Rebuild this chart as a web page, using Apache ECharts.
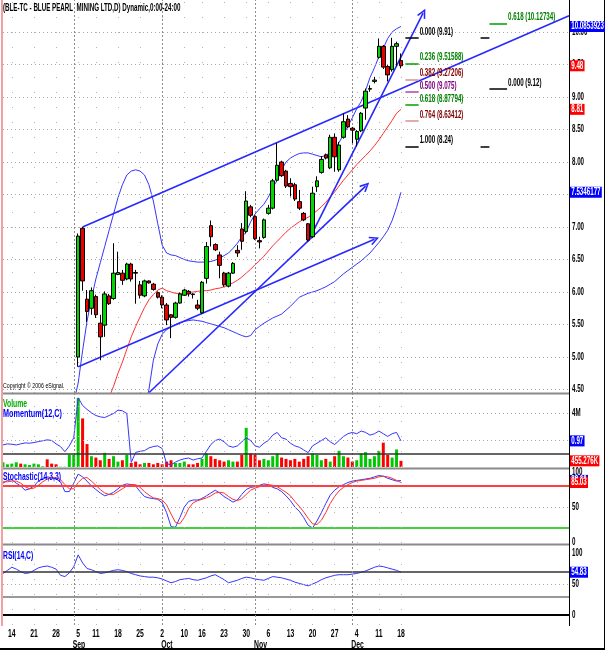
<!DOCTYPE html>
<html>
<head>
<meta charset="utf-8">
<title>BLE-TC</title>
<script src="https://cdn.jsdelivr.net/npm/echarts@6.0.0/dist/echarts.min.js"></script>
<style>
html,body{margin:0;padding:0;background:#fff;}
#chart{width:605px;height:650px;}
</style>
</head>
<body>
<div id="chart"></div>
<script>
// ---------------- categories (trading days) ----------------
const firstDay = '2006-08-10';
const dayCount = 129;
const marketHolidays = ['2006-09-04', '2006-10-09'];
const lastLabelDay = '2006-12-18';
const monthNames = ['Jan','Feb','Mar','Apr','May','Jun','Jul','Aug','Sep','Oct','Nov','Dec'];

// ---------------- daily candles, Sep 5 .. Dec 18 2006 ----------------
const candleStart = '2006-09-05';
const candleOpen  = [5.00,6.98,5.89,5.75,5.93,5.52,5.49,5.94,5.90,6.27,6.29,6.20,6.43,6.30,6.11,5.94,6.17,6.12,5.99,5.92,5.80,5.65,5.61,5.83,5.95,6.01,5.97,5.80,5.68,6.21,7.02,6.73,6.57,6.29,6.09,6.29,6.64,6.97,6.93,7.31,7.16,6.79,6.84,7.21,7.29,7.72,8.00,7.86,7.67,7.65,7.39,7.21,7.05,6.85,7.62,7.84,8.11,7.91,8.38,7.88,8.38,8.66,8.52,8.35,8.48,8.83,9.12,9.24,9.61,9.78,9.47,9.42,9.78,9.56];
const candleHigh  = [6.90,7.00,6.03,6.07,5.96,5.65,6.01,5.97,6.75,6.62,6.34,6.45,6.45,6.34,6.17,6.19,6.18,6.14,6.01,5.95,5.83,5.66,5.85,5.99,6.05,6.03,5.98,5.88,6.17,6.77,7.10,6.75,6.62,6.31,6.31,6.46,6.72,7.06,7.55,7.34,7.18,6.85,7.13,7.34,7.74,8.29,8.02,7.88,7.75,7.68,7.57,7.23,7.06,7.62,7.78,8.09,8.13,8.42,8.44,8.31,8.75,8.72,8.54,8.49,8.77,9.13,9.18,9.31,9.90,9.80,9.49,9.91,9.85,9.67];
const candleLow   = [4.85,6.02,5.54,5.65,5.60,4.95,5.31,5.80,5.88,6.26,6.11,6.18,6.16,5.82,5.90,5.92,6.13,6.02,5.90,5.75,5.49,5.29,5.59,5.82,5.94,5.93,5.90,5.72,5.66,6.13,6.70,6.63,6.21,6.08,6.07,6.28,6.54,6.65,6.90,7.15,6.80,6.67,6.82,7.19,7.27,7.70,7.77,7.60,7.47,7.40,7.26,7.09,6.78,6.83,7.54,7.82,8.04,7.89,7.85,7.85,8.36,8.52,8.29,8.24,8.46,8.65,9.08,9.21,9.59,9.43,9.24,9.39,9.47,9.44];
const candleClose = [6.86,6.17,5.70,6.02,5.65,5.31,5.97,5.82,6.29,6.30,6.18,6.43,6.20,6.29,5.95,6.17,6.14,6.04,5.92,5.80,5.57,5.61,5.83,5.97,6.03,5.97,5.96,5.75,6.15,6.70,6.85,6.65,6.41,6.11,6.29,6.44,6.60,6.78,7.40,7.18,6.82,6.77,7.11,7.29,7.71,7.95,7.79,7.63,7.62,7.43,7.29,7.11,6.80,7.52,7.71,8.04,8.06,8.38,8.08,8.26,8.62,8.54,8.49,8.47,8.75,9.09,9.13,9.26,9.78,9.46,9.34,9.78,9.82,9.48];

// ---------------- price-panel overlays ----------------
const upperBandStart = '2006-09-01';
const upperBand = [4.3,4.6,5.1,5.55,5.9,6.2,6.45,6.7,6.95,7.2,7.45,7.65,7.8,7.86,7.88,7.86,7.8,7.65,7.4,7.05,6.72,6.6,6.57,6.56,6.53,6.5,6.48,6.47,6.46,6.46,6.46,6.47,6.49,6.52,6.56,6.6,6.67,6.75,6.85,6.92,7.08,7.2,7.28,7.35,7.46,7.6,7.72,7.88,8.0,8.06,8.1,8.13,8.14,8.14,8.12,8.1,8.08,8.1,8.15,8.2,8.3,8.42,8.55,8.68,8.82,8.93,9.1,9.3,9.45,9.62,9.75,9.9,10.0,10.05,10.0853923];
const middleStart = '2006-09-13';
const middleAvg = [4.2,4.38,4.55,4.75,4.92,5.12,5.31,5.47,5.62,5.76,5.88,5.96,6.03,6.06,6.02,6.0,5.98,5.98,5.98,5.99,6.0,6.01,6.02,6.02,6.03,6.05,6.06,6.08,6.11,6.14,6.18,6.23,6.29,6.35,6.42,6.48,6.55,6.63,6.71,6.78,6.85,6.92,6.98,7.03,7.08,7.12,7.15,7.2,7.25,7.31,7.38,7.46,7.54,7.63,7.72,7.8,7.88,7.96,8.03,8.1,8.17,8.25,8.34,8.44,8.54,8.64,8.75,8.81];
const lowerBandStart = '2006-09-26';
const lowerBand = [4.2,4.5,4.95,5.2,5.35,5.42,5.46,5.5,5.53,5.55,5.56,5.57,5.56,5.55,5.53,5.51,5.49,5.47,5.45,5.42,5.39,5.36,5.33,5.31,5.33,5.42,5.47,5.52,5.56,5.6,5.63,5.66,5.72,5.78,5.85,5.92,5.95,5.98,6.0,6.02,6.05,6.08,6.12,6.16,6.22,6.28,6.33,6.38,6.43,6.48,6.54,6.6,6.68,6.76,6.85,6.95,7.1,7.3,7.5346177];

// trend lines: [date, value] -> [date, value]
const trendLines = [
  {from: ['2006-09-06', 7.00], to: ['2007-02-08', 10.25], arrow: false},
  {from: ['2006-09-05', 4.85], to: ['2006-12-08', 6.81], arrow: true},
  {from: ['2006-09-27', 4.45], to: ['2006-12-06', 7.63], arrow: true},
  {from: ['2006-11-17', 6.78], to: ['2006-12-25', 10.29], arrow: true}
];

// Fibonacci retracement (set 1) and extension (set 2)
const fibRatios1 = [0, 0.236, 0.382, 0.5, 0.618, 0.764, 1];
const fibValues1 = [9.91, 9.51588, 9.27206, 9.075, 8.87794, 8.63412, 8.24];
const fibText1Colors = ['#000000','#008000','#800000','#800080','#008000','#800000','#000000'];
const fibDash1Colors = ['#000000','#00a000','#d89090','#b040b0','#00a000','#d89090','#000000'];
const fibDash1 = ['2006-12-19', '2006-12-22'];
const fibEndDash1 = ['2007-01-11', '2007-01-15'];
const fibRatios2 = [0.618, 0];
const fibValues2 = [10.12734, 9.12];
const fibText2Colors = ['#008000', '#000000'];
const fibDash2Colors = ['#00a000', '#000000'];
const fibDash2 = ['2007-01-15', '2007-01-19'];

// ---------------- lower panels, Aug 10 .. Dec 18 ----------------
const indicatorStart = '2006-08-10';
const volumeM = [0.35,0.2,0.25,0.35,0.25,0.2,0.15,0.25,0.2,0.05,0.57,0.25,0.2,0.02,0.02,0.9,0.9,
  5.1,3.6,1.7,0.8,0.7,0.5,1.05,0.6,0.8,0.4,0.5,0.9,0.3,0.4,0.2,0.3,0.3,0.2,0.3,0.2,0.4,0.5,0.3,0.3,0.4,0.2,0.2,0.3,0.6,1.0,0.8,0.6,0.5,0.4,0.5,0.4,0.4,0.9,2.9,1.0,0.9,0.5,0.6,0.5,0.8,1.0,0.7,0.6,0.5,0.6,0.4,0.6,0.8,1.0,0.9,0.5,0.6,0.4,0.8,1.2,0.8,0.7,0.4,0.5,1.0,1.1,0.6,0.8,1.2,1.8,0.9,0.7,1.3,0.455276];
const volumeUpBefore = [1,1,1,1,0,1,1,1,1,1,0,0,0,1,1,1,1];
const momentum = [0.67,0.75,0.72,0.67,0.75,0.82,0.8,0.85,0.92,0.98,1.05,1.0,0.75,0.55,0.17,0.6,1.2,
  4.16,3.6,3.3,3.05,2.85,2.75,2.7,2.85,3.0,3.25,3.2,3.0,-0.62,0.12,0.2,0.25,0.45,0.55,0.6,0.4,-0.72,-0.8,-0.6,-0.45,-0.35,-0.3,-0.45,-0.35,-0.3,
  0.2,0.7,1.0,1.1,0.9,0.6,0.5,0.6,0.9,1.2,1.0,0.6,0.5,0.8,1.0,1.4,1.6,1.2,1.1,0.8,0.6,0.5,0.3,0.1,0.6,0.8,1.0,1.2,0.9,0.7,1.0,1.3,1.5,1.6,1.5,1.7,1.6,1.4,1.5,1.7,1.5,1.3,1.5,1.6,0.97];
const stochK = [84,88,89,84,80,74,76,80,87,90,93,92,90,86,72,72,84,97,93,87,80,75,70,66,68,71,76,81,83,82,80,72,65,63,62,61,56,42,22,21,35,50,58,60,60,62,66,70,74,70,65,61,57,60,68,75,78,79,81,83,82,78,76,72,66,59,50,44,35,24,20,30,42,55,67,74,79,82,85,87,88,89,90,91,93,95,94,91,89,87,88];
const stochD = [86,86,87,87,84,79,76,77,81,86,90,92,92,89,82,76,76,85,91,92,87,81,75,70,68,68,72,76,80,82,82,78,72,67,63,62,60,53,40,28,26,35,48,56,59,61,63,66,70,71,70,65,61,59,62,68,74,77,79,81,82,81,79,75,71,66,58,51,43,34,26,25,31,42,55,65,73,78,82,85,87,88,89,90,91,93,94,93,91,88,85.03];
const rsi = [67,72,77,74,70,67,68,72,76,78,79,77,74,64,62,68,78,97,84,75,73,70,67,68,70,72,73,72,70,67,65,63,62,61,61,60,58,55,52,54,57,58,59,57,56,58,60,63,65,61,57,52,54,56,59,61,60,58,57,56,59,62,61,60,58,56,53,51,49,47,50,53,57,60,62,64,65,65,65,66,67,69,71,74,77,79,78,76,74,72,69];

// axis tick labels and level lines
const priceTicks = [4.5,5.0,5.5,6.0,6.5,7.0,7.5,8.0,8.5,9.0,9.5,10.0];
const volumeTicks = [4000000];
const volumeGrid = [2000000, 4000000];
const stochTicks = [0, 50, 100];
const stochLevels = {upper: 80, middle: 50, lower: 20};
const rsiTicks = [0, 50, 100];
const rsiLevels = {upper: 70, middle: 50, lower: 30};
const lastLabels = {upper: '10.0853923', close: '9.48', middle: '8.81', lower: '7.5346177',
  momentum: '0.97', volume: '455.276K', stochD: '85.03', rsi: '54.83'};
const titleText = '(BLE-TC - BLUE PEARL  MINING LTD,D) Dynamic,0:00-24:00';

// ---------------- build ----------------
function buildDays() {
  const out = [];
  let t = Date.parse(firstDay + 'T00:00:00Z');
  while (out.length < dayCount) {
    const d = new Date(t);
    const s = d.toISOString().slice(0, 10);
    const wd = d.getUTCDay();
    if (wd !== 0 && wd !== 6 && marketHolidays.indexOf(s) < 0) out.push(s);
    t += 86400000;
  }
  return out;
}
const days = buildDays();
const dow = s => new Date(s + 'T00:00:00Z').getUTCDay();
const weekStart = days.map((d, i) => i > 0 && dow(d) <= dow(days[i - 1]) && d <= lastLabelDay);
const monthStart = days.map((d, i) => i > 0 && d.slice(5, 7) !== days[i - 1].slice(5, 7) && d <= lastLabelDay);

function seq(startDate, values) {
  const s = days.indexOf(startDate);
  return values.map((v, i) => [days[s + i], v]);
}

const UIF = "'Liberation Sans', Arial, 'DejaVu Sans', sans-serif";
const SX = 0.62;
const BLUE = '#3535ff';
const GRID_DOT = {color: '#a8a8a8', type: [1, 3], width: 1};
const WEEK_DOT = {color: '#b4b4b4', type: [1, 14], width: 1};
const MONTH_DOT = {color: '#8c8c8c', type: [2, 2], width: 1};
const ARROW = 'path://M5,0 L10,9 L8.6,10 L5,3.4 L1.4,10 L0,9 Z';

const weekDates = days.filter((d, i) => weekStart[i]);
const monthDates = days.filter((d, i) => monthStart[i]);
function verticalGuides() {
  return weekDates.map(d => ({xAxis: d, lineStyle: WEEK_DOT}))
    .concat(monthDates.map(d => ({xAxis: d, lineStyle: MONTH_DOT})));
}
function guideSeries(gi, yi, items) {
  return {type: 'line', xAxisIndex: gi, yAxisIndex: yi, data: [], silent: true, z: 1,
    markLine: {silent: true, symbol: ['none', 'none'], label: {show: false}, animation: false, data: items}};
}

const cStart = days.indexOf(candleStart);
const candleData = candleOpen.map((o, i) => [days[cStart + i], o, candleClose[i], candleLow[i], candleHigh[i]]);

const volumeData = volumeM.map((v, i) => {
  const k = i - cStart;
  const up = k >= 0 ? candleClose[k] >= candleOpen[k] : volumeUpBefore[i] === 1;
  return {value: [days[i], v * 1e6], itemStyle: {color: up ? '#00c800' : '#ff0000'}};
});

const grids = [
  {left: 3, right: 36, top: 0, height: 393},
  {left: 3, right: 36, top: 394, height: 73},
  {left: 3, right: 36, top: 470, height: 73},
  {left: 3, right: 36, top: 546, height: 79}
];

const xAxes = grids.map((g, gi) => ({
  type: 'category', gridIndex: gi, data: days, boundaryGap: false,
  axisLine: {show: gi === 3, lineStyle: {color: '#000', width: 2}},
  axisTick: {show: false}, splitLine: {show: false}, axisLabel: {show: false}
}));

const yAxisBase = {type: 'value', position: 'right', axisTick: {show: false}, splitLine: {show: false},
  axisLabel: {show: false}, axisLine: {show: true, lineStyle: {color: '#000'}}};
const yAxes = [
  Object.assign({}, yAxisBase, {gridIndex: 0, min: 4.4462, max: 10.4923}),
  Object.assign({}, yAxisBase, {gridIndex: 1, min: 0, max: 5407000}),
  Object.assign({}, yAxisBase, {gridIndex: 1, min: -0.963, max: 4.444, axisLine: {show: false}}),
  Object.assign({}, yAxisBase, {gridIndex: 2, min: -1.43, max: 102.86}),
  Object.assign({}, yAxisBase, {gridIndex: 3, min: -16.13, max: 111.3})
];

const series = [];
series.push(guideSeries(0, 0, priceTicks.map(v => ({yAxis: v, lineStyle: GRID_DOT})).concat(verticalGuides())));
series.push(guideSeries(1, 1, volumeGrid.map(v => ({yAxis: v, lineStyle: GRID_DOT})).concat(verticalGuides())));
series.push(guideSeries(2, 3, [
  {yAxis: stochLevels.middle, lineStyle: GRID_DOT},
  {yAxis: stochLevels.upper, lineStyle: {color: '#ff4040', width: 2, type: 'solid'}},
  {yAxis: stochLevels.lower, lineStyle: {color: '#40d040', width: 2, type: 'solid'}}
].concat(verticalGuides())));
series.push(guideSeries(3, 4, [
  {yAxis: rsiLevels.middle, lineStyle: GRID_DOT},
  {yAxis: rsiLevels.upper, lineStyle: {color: '#333', width: 1.5, type: 'solid'}},
  {yAxis: rsiLevels.lower, lineStyle: {color: '#999', width: 2, type: 'solid'}}
].concat(verticalGuides())));

series.push({type: 'line', xAxisIndex: 0, yAxisIndex: 0, data: seq(upperBandStart, upperBand), symbol: 'none',
  lineStyle: {color: BLUE, width: 1}, z: 3, silent: true});
series.push({type: 'line', xAxisIndex: 0, yAxisIndex: 0, data: seq(lowerBandStart, lowerBand), symbol: 'none',
  lineStyle: {color: BLUE, width: 1}, z: 3, silent: true});
series.push({type: 'line', xAxisIndex: 0, yAxisIndex: 0, data: seq(middleStart, middleAvg), symbol: 'none',
  lineStyle: {color: '#ff3030', width: 1}, z: 3, silent: true});

series.push({type: 'candlestick', xAxisIndex: 0, yAxisIndex: 0, data: candleData,
  encode: {x: 0, y: [1, 2, 3, 4]}, barWidth: 4, z: 5, silent: true,
  itemStyle: {color: '#00d800', color0: '#e80000', borderColor: '#000', borderColor0: '#000', borderWidth: 1}});

series.push({type: 'line', xAxisIndex: 0, yAxisIndex: 0, data: [], silent: true, z: 6,
  markLine: {silent: true, animation: false, label: {show: false},
    lineStyle: {color: '#2828ff', width: 1.6, type: 'solid'},
    data: trendLines.map(t => [
      {coord: t.from, symbol: 'none'},
      {coord: t.to, symbol: t.arrow ? ARROW : 'none', symbolSize: [9, 10]}
    ])}});

const fibDashItems = [];
fibValues1.forEach((v, i) => {
  fibDashItems.push([{coord: [fibDash1[0], v], lineStyle: {color: fibDash1Colors[i], width: 1.5, type: 'solid'}},
    {coord: [fibDash1[1], v]}]);
  if (fibRatios1[i] === 0 || fibRatios1[i] === 1) {
    fibDashItems.push([{coord: [fibEndDash1[0], v], lineStyle: {color: fibDash1Colors[i], width: 1.5, type: 'solid'}},
      {coord: [fibEndDash1[1], v]}]);
  }
});
fibValues2.forEach((v, i) => {
  fibDashItems.push([{coord: [fibDash2[0], v], lineStyle: {color: fibDash2Colors[i], width: 1.5, type: 'solid'}},
    {coord: [fibDash2[1], v]}]);
});
series.push({type: 'line', xAxisIndex: 0, yAxisIndex: 0, data: [], silent: true, z: 6,
  markLine: {silent: true, animation: false, label: {show: false}, symbol: ['none', 'none'], data: fibDashItems}});

series.push({type: 'bar', xAxisIndex: 1, yAxisIndex: 1, data: volumeData, barWidth: 3, silent: true, z: 3});
series.push({type: 'line', xAxisIndex: 1, yAxisIndex: 2, data: seq(indicatorStart, momentum), symbol: 'none',
  lineStyle: {color: BLUE, width: 1}, z: 4, silent: true,
  markLine: {silent: true, animation: false, symbol: ['none', 'none'], label: {show: false},
    data: [{yAxis: 0, lineStyle: {color: '#333', width: 1.5, type: 'solid'}}]}});
series.push({type: 'line', xAxisIndex: 2, yAxisIndex: 3, data: seq(indicatorStart, stochK), symbol: 'none',
  lineStyle: {color: BLUE, width: 1}, z: 4, silent: true});
series.push({type: 'line', xAxisIndex: 2, yAxisIndex: 3, data: seq(indicatorStart, stochD), symbol: 'none',
  lineStyle: {color: '#ff3030', width: 1}, z: 4, silent: true});
series.push({type: 'line', xAxisIndex: 3, yAxisIndex: 4, data: seq(indicatorStart, rsi), symbol: 'none',
  lineStyle: {color: BLUE, width: 1}, z: 4, silent: true});

const option = {
  animation: false,
  backgroundColor: '#ffffff',
  grid: grids,
  xAxis: xAxes,
  yAxis: yAxes,
  series: series
};

const chart = echarts.init(document.getElementById('chart'), null, {renderer: 'canvas'});
chart.setOption(option);

// ---------------- text layer, placed through the chart's own scales ----------------
const yPx = (yi, v) => chart.convertToPixel({yAxisIndex: yi}, v);
const xPx = (xi, d) => chart.convertToPixel({xAxisIndex: xi}, d);
function txt(x, y, text, color, o) {
  o = o || {};
  const st = {text: text, x: 0, y: 0, fill: color,
    font: (o.weight || 'bold') + ' ' + (o.size || 10) + 'px ' + UIF,
    align: o.align || 'left', verticalAlign: o.valign || 'middle'};
  if (o.bg) { st.backgroundColor = o.bg; st.padding = [1, 2, 0, 2]; }
  return {type: 'text', x: x, y: y, scaleX: o.sx || SX, silent: true, z: o.z || 50, style: st};
}
const hline = (y, x1, x2, color, w) => ({type: 'line', silent: true, z: 40,
  shape: {x1: x1, y1: y, x2: x2, y2: y}, style: {stroke: color, lineWidth: w}});
const vline = (x, y1, y2, color, w) => ({type: 'line', silent: true, z: 40,
  shape: {x1: x, y1: y1, x2: x, y2: y2}, style: {stroke: color, lineWidth: w}});

const axisX = 572;
const boxX = 570;
const G = [
  vline(2, 0, 626, '#f4a0a0', 2),
  hline(393.5, 3, 569, '#8a8a8a', 2),
  hline(468.5, 3, 569, '#8a8a8a', 2),
  hline(544.5, 3, 569, '#8a8a8a', 2),
  vline(569.5, 0, 626, '#000', 1),
  hline(649, 0, 605, '#000', 2),
  vline(604.5, 0, 650, '#000', 1),
  txt(3, 8, titleText, '#000', {size: 11, sx: 0.565}),
  txt(3, 386, 'Copyright \u00a9 2006 eSignal.', '#000', {size: 7, weight: 'normal', sx: 0.75}),
  txt(3, 404, 'Volume', '#00a800', {size: 11}),
  txt(3, 414, 'Momentum(12,C)', '#0000ff', {size: 11, sx: 0.66}),
  txt(3, 477, 'Stochastic(14,3,3)', '#0000ff', {size: 11}),
  txt(3, 556, 'RSI(14,C)', '#0000ff', {size: 11})
];
priceTicks.forEach(v => G.push(txt(axisX, yPx(0, v), v.toFixed(2), '#000')));
volumeTicks.forEach(v => G.push(txt(axisX, yPx(1, v), (v / 1e6) + 'M', '#000')));
stochTicks.forEach(v => G.push(txt(axisX, yPx(3, v), String(v), '#000')));
rsiTicks.forEach(v => G.push(txt(axisX, yPx(4, v), String(v), '#000')));
days.forEach((d, i) => {
  if (weekStart[i]) G.push(txt(xPx(3, d), 634, String(Number(d.slice(8))), '#000', {align: 'center', size: 11}));
  if (monthStart[i]) G.push(txt(xPx(3, d) - 1, 645, monthNames[Number(d.slice(5, 7)) - 1], '#000', {size: 11}));
});
const fibText = (r, v) => r.toFixed(3) + ' (' + v + ')';
fibValues1.forEach((v, i) => G.push(txt(xPx(0, fibDash1[1]) + 1, yPx(0, v) - 6, fibText(fibRatios1[i], v), fibText1Colors[i])));
fibValues2.forEach((v, i) => G.push(txt(xPx(0, fibDash2[1]) + 1, yPx(0, v) - 6, fibText(fibRatios2[i], v), fibText2Colors[i])));
const box = (y, text, bg, z) => txt(boxX, y, text, '#fff', {bg: bg, z: z || 60});
G.push(box(yPx(0, upperBand[upperBand.length - 1]), lastLabels.upper, '#0000ff'));
G.push(box(yPx(0, candleClose[candleClose.length - 1]), lastLabels.close, '#ff0000'));
G.push(box(yPx(0, middleAvg[middleAvg.length - 1]), lastLabels.middle, '#ff0000'));
G.push(box(yPx(0, lowerBand[lowerBand.length - 1]), lastLabels.lower, '#0000ff'));
G.push(box(yPx(2, momentum[momentum.length - 1]), lastLabels.momentum, '#0000ff'));
G.push(box(yPx(1, volumeM[volumeM.length - 1] * 1e6), lastLabels.volume, '#ff0000'));
G.push(box(yPx(3, stochK[stochK.length - 1]), stochK[stochK.length - 1].toFixed(2), '#0000ff', 59));
G.push(box(yPx(3, stochD[stochD.length - 1]), lastLabels.stochD, '#ff0000', 60));
G.push(box(yPx(4, rsi[rsi.length - 1]), lastLabels.rsi, '#0000ff'));

chart.setOption({graphic: G});
</script>
</body>
</html>
